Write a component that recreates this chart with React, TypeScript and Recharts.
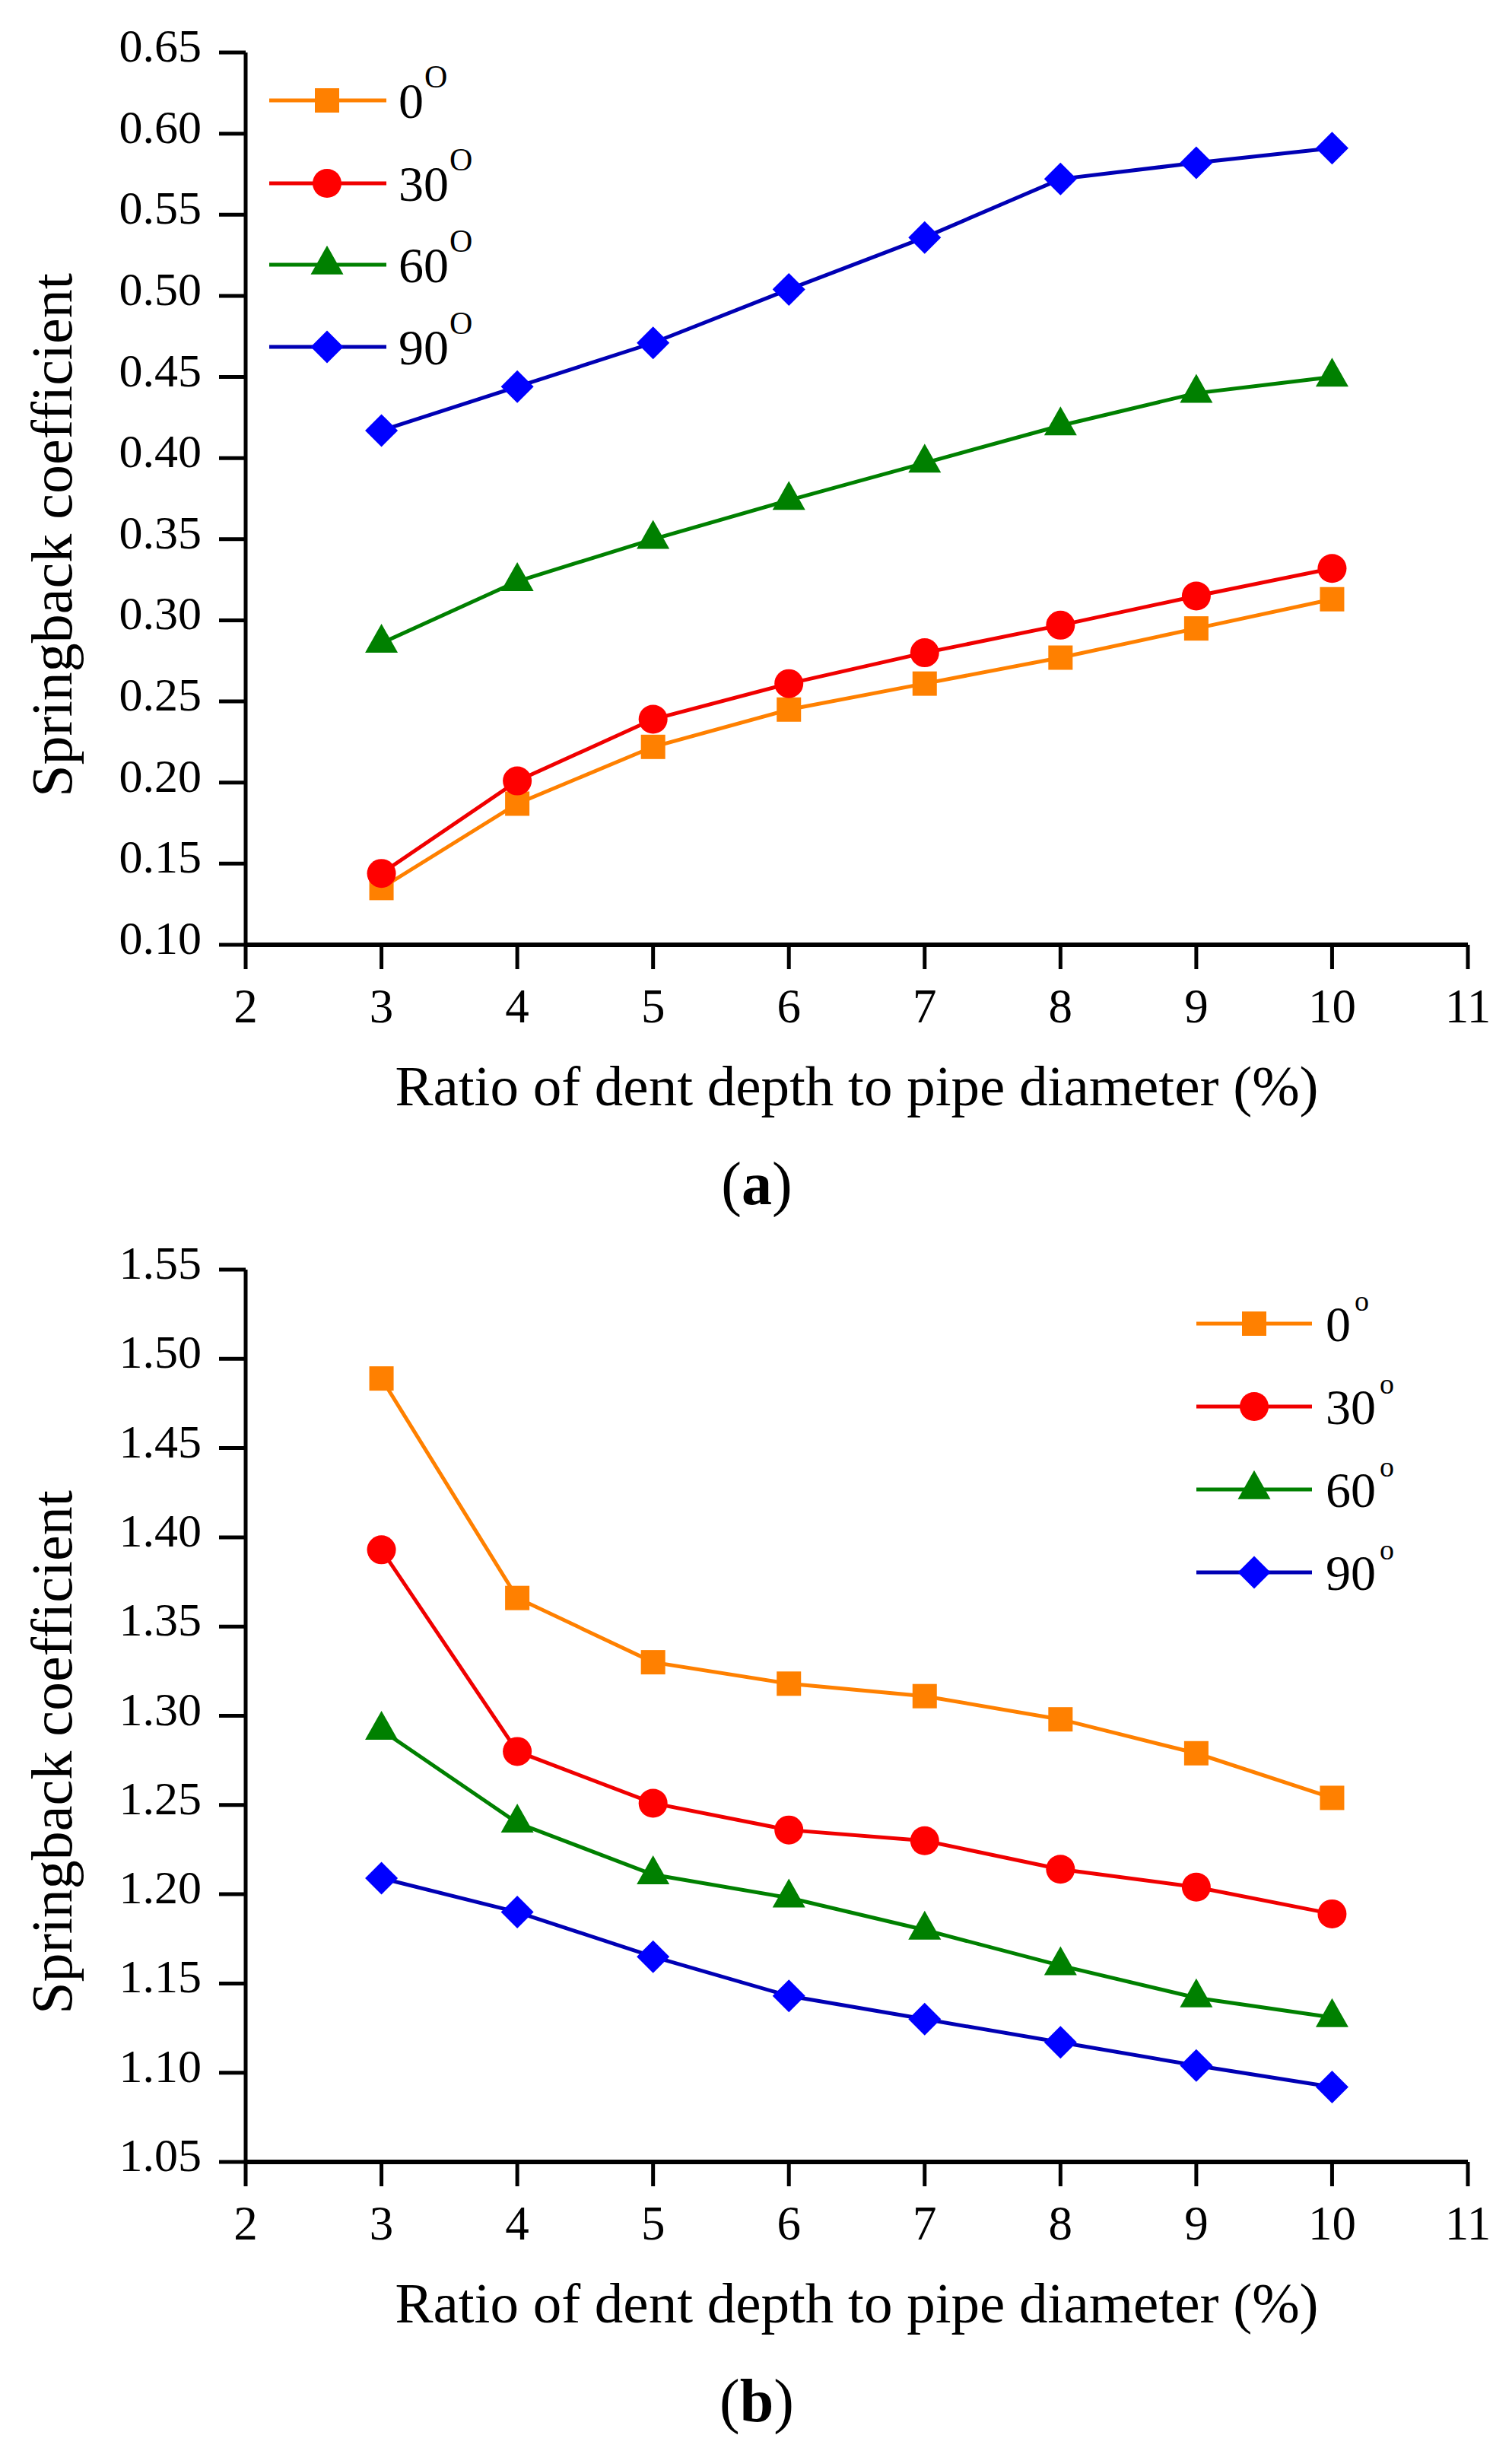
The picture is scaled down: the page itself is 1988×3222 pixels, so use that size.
import React from 'react';
import { LineChart, Line, XAxis, YAxis, Legend } from 'recharts';

const FONT = "'Liberation Serif', 'Times New Roman', Times, serif";

// ---- data ----
const ratios = [3, 4, 5, 6, 7, 8, 9, 10];
const xTicks = [2, 3, 4, 5, 6, 7, 8, 9, 10, 11];
const yTicksA = [0.1, 0.15, 0.2, 0.25, 0.3, 0.35, 0.4, 0.45, 0.5, 0.55, 0.6, 0.65];
const yTicksB = [1.05, 1.1, 1.15, 1.2, 1.25, 1.3, 1.35, 1.4, 1.45, 1.5, 1.55];

const a0 = [0.135, 0.187, 0.222, 0.245, 0.261, 0.277, 0.295, 0.313];
const a30 = [0.144, 0.201, 0.239, 0.261, 0.28, 0.297, 0.315, 0.332];
const a60 = [0.286, 0.324, 0.35, 0.374, 0.397, 0.42, 0.44, 0.45];
const a90 = [0.417, 0.444, 0.471, 0.504, 0.536, 0.572, 0.582, 0.591];

const b0 = [1.489, 1.366, 1.33, 1.318, 1.311, 1.298, 1.279, 1.254];
const b30 = [1.393, 1.28, 1.251, 1.236, 1.23, 1.214, 1.204, 1.189];
const b60 = [1.292, 1.24, 1.211, 1.198, 1.18, 1.16, 1.142, 1.131];
const b90 = [1.209, 1.19, 1.165, 1.143, 1.13, 1.117, 1.104, 1.092];

const angles = ['0', '30', '60', '90'];
const lineColors = ['#FF8000', '#F00000', '#008000', '#0000B4'];
const markerColors = ['#FF8000', '#FF0000', '#008000', '#0000FF'];
const markerShapes = ['square', 'circle', 'triangle', 'diamond'];

const buildRows = (series: number[][]) =>
  ratios.map((r, i) => {
    const row: any = { x: r };
    series.forEach((s, k) => {
      row['s' + k] = s[i];
    });
    return row;
  });

const dataA = buildRows([a0, a30, a60, a90]);
const dataB = buildRows([b0, b30, b60, b90]);

// ---- markers ----
function Marker({ shape, cx, cy, color }: any) {
  if (cx == null || cy == null) return null;
  if (shape === 'square') {
    const s = 32;
    return <rect x={cx - s / 2} y={cy - s / 2} width={s} height={s} fill={color} />;
  }
  if (shape === 'circle') {
    return <circle cx={cx} cy={cy} r={19} fill={color} />;
  }
  if (shape === 'triangle') {
    const w = 43;
    const h = 38;
    const d = `M${cx},${cy - (2 * h) / 3} L${cx + w / 2},${cy + h / 3} L${cx - w / 2},${cy + h / 3} Z`;
    return <path d={d} fill={color} />;
  }
  const hw = 21.5;
  const hh = 21.5;
  const d = `M${cx},${cy - hh} L${cx + hw},${cy} L${cx},${cy + hh} L${cx - hw},${cy} Z`;
  return <path d={d} fill={color} />;
}

const makeDot = (k: number) => (p: any) => (
  <Marker key={`dot-${k}-${p.index}`} shape={markerShapes[k]} cx={p.cx} cy={p.cy} color={markerColors[k]} />
);

// ---- ticks & labels ----
const XTick = (props: any) => {
  const { x, y, payload } = props;
  return (
    <text x={x} y={y + 70} textAnchor="middle" fontFamily={FONT} fontSize={63} fill="#000">
      {payload.value}
    </text>
  );
};

const YTick = (props: any) => {
  const { x, y, payload } = props;
  return (
    <text x={x} y={y + 12} textAnchor="end" fontFamily={FONT} fontSize={62} fill="#000">
      {Number(payload.value).toFixed(2)}
    </text>
  );
};

const makeXLabel = (caption: string) => (props: any) => {
  const vb = props.viewBox || {};
  const cx = vb.x + vb.width / 2;
  return (
    <g>
      <text x={cx} y={vb.y + 211} textAnchor="middle" fontFamily={FONT} fontSize={75} fill="#000">
        Ratio of dent depth to pipe diameter (%)
      </text>
      <text x={995} y={vb.y + 341} textAnchor="middle" fontFamily={FONT} fontSize={80} fill="#000">
        (<tspan fontWeight="bold">{caption}</tspan>)
      </text>
    </g>
  );
};

const YLabel = (props: any) => {
  const vb = props.viewBox || {};
  const cy = vb.y + vb.height / 2 + 48;
  const bx = 94;
  return (
    <text
      x={bx}
      y={cy}
      textAnchor="middle"
      transform={`rotate(-90, ${bx}, ${cy})`}
      fontFamily={FONT}
      fontSize={76}
      fill="#000"
    >
      Springback coefficient
    </text>
  );
};

// ---- legend ----
type LegendCfg = {
  left: number;
  top: number;
  rowsY: number[];
  lineX1: number;
  lineX2: number;
  markX: number;
  textX: number;
  sup: string;
  supSize: number;
  supDx: number;
};

const legendA: LegendCfg = {
  left: 330,
  top: 70,
  rowsY: [132, 241, 348, 456],
  lineX1: 354,
  lineX2: 508,
  markX: 430,
  textX: 524,
  sup: 'O',
  supSize: 42,
  supDx: 1,
};

const legendB: LegendCfg = {
  left: 1550,
  top: 75,
  rowsY: [140, 249, 358, 467],
  lineX1: 1573,
  lineX2: 1725,
  markX: 1649,
  textX: 1743,
  sup: 'o',
  supSize: 38,
  supDx: 5,
};

const W_LEG = 320;
const H_LEG = 440;

const LegendSvg = ({ cfg }: { cfg: LegendCfg }) => (
  <svg width={W_LEG} height={H_LEG} style={{ display: 'block', overflow: 'visible' }}>
    <g transform={`translate(${-cfg.left}, ${-cfg.top})`}>
      {angles.map((a, k) => {
        const y = cfg.rowsY[k];
        return (
          <g key={a}>
            <line x1={cfg.lineX1} y1={y} x2={cfg.lineX2} y2={y} stroke={lineColors[k]} strokeWidth={5} />
            <Marker shape={markerShapes[k]} cx={cfg.markX} cy={y} color={markerColors[k]} />
            <text x={cfg.textX} y={y + 23} fontFamily={FONT} fontSize={66} fill="#000">
              {a}
              <tspan dx={cfg.supDx} dy={-40} fontSize={cfg.supSize}>
                {cfg.sup}
              </tspan>
            </text>
          </g>
        );
      })}
    </g>
  </svg>
);

// ---- chart ----
const CHART_W = 1988;
const CHART_H = 1600;
const PLOT_LEFT = 323;
const PLOT_RIGHT = 1930;
const PLOT_TOP = 69;
const PLOT_BOTTOM = 1242;
const Y_AXIS_W = 100;
const X_AXIS_H = 100;

function Panel({ data, yTicks, caption, legend }: any) {
  return (
    <LineChart
      width={CHART_W}
      height={CHART_H}
      data={data}
      margin={{
        top: PLOT_TOP,
        right: CHART_W - PLOT_RIGHT,
        bottom: CHART_H - PLOT_BOTTOM - X_AXIS_H,
        left: PLOT_LEFT - Y_AXIS_W,
      }}
    >
      <XAxis
        dataKey="x"
        type="number"
        domain={[2, 11]}
        ticks={xTicks}
        interval={0}
        height={X_AXIS_H}
        tickSize={32}
        tickMargin={0}
        tick={<XTick />}
        tickLine={{ stroke: '#000', strokeWidth: 5 }}
        axisLine={{ stroke: '#000', strokeWidth: 6 }}
        label={makeXLabel(caption)}
        allowDataOverflow
      />
      <YAxis
        type="number"
        domain={[yTicks[0], yTicks[yTicks.length - 1]]}
        ticks={yTicks}
        interval={0}
        width={Y_AXIS_W}
        tickSize={35}
        tickMargin={23}
        tick={<YTick />}
        tickLine={{ stroke: '#000', strokeWidth: 5 }}
        axisLine={{ stroke: '#000', strokeWidth: 5 }}
        label={YLabel}
        allowDataOverflow
      />
      <Legend
        layout="vertical"
        align="center"
        verticalAlign="middle"
        wrapperStyle={{ position: 'absolute', left: legend.left, top: legend.top, width: W_LEG, height: H_LEG }}
        content={() => <LegendSvg cfg={legend} />}
      />
      {angles.map((a, k) => (
        <Line
          key={a}
          type="linear"
          dataKey={'s' + k}
          name={a + '°'}
          stroke={lineColors[k]}
          strokeWidth={5}
          dot={makeDot(k)}
          activeDot={false}
          isAnimationActive={false}
        />
      ))}
    </LineChart>
  );
}

export default function App() {
  return (
    <div style={{ position: 'absolute', left: 0, top: 0, width: 1988, height: 3222, background: '#fff' }}>
      <div style={{ position: 'absolute', left: 0, top: 0 }}>
        <Panel data={dataA} yTicks={yTicksA} caption="a" legend={legendA} />
      </div>
      <div style={{ position: 'absolute', left: 0, top: 1600 }}>
        <Panel data={dataB} yTicks={yTicksB} caption="b" legend={legendB} />
      </div>
    </div>
  );
}
